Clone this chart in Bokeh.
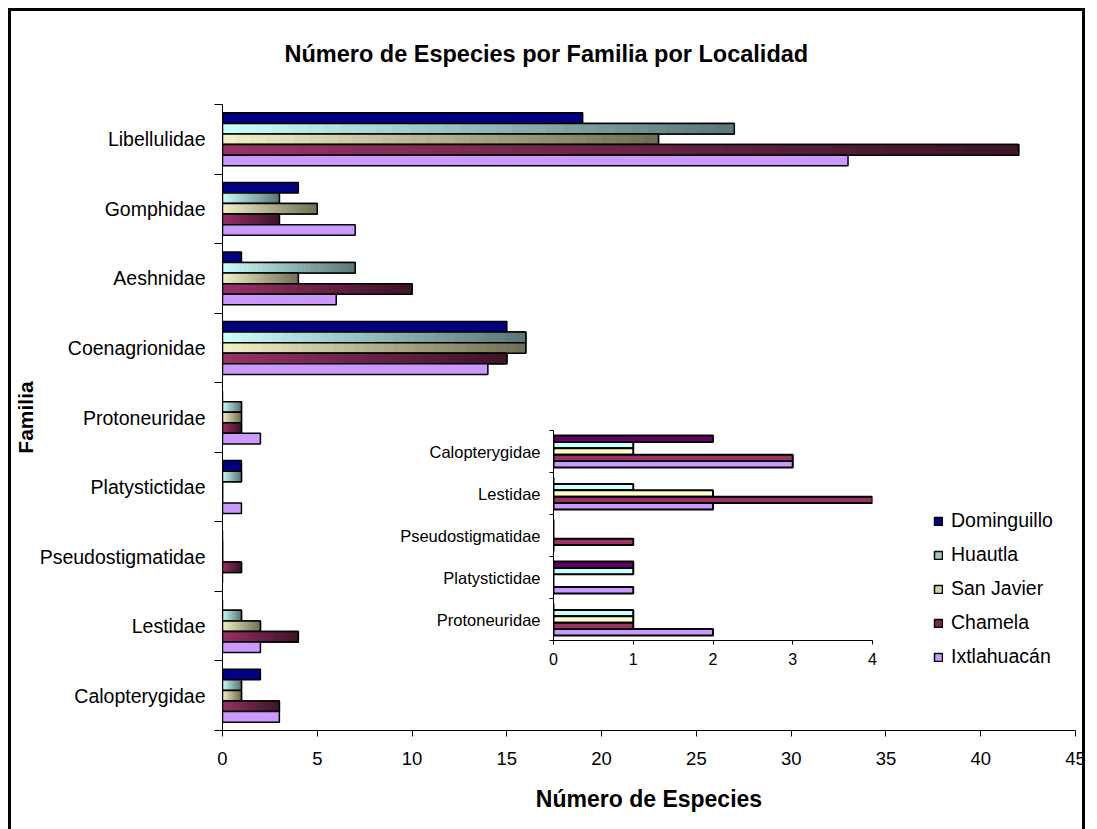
from bokeh.plotting import figure
from bokeh.models import FixedTicker, Legend, LegendItem, Range1d, Div
from bokeh.layouts import column
from bokeh.embed import file_html
from bokeh.resources import INLINE

# ---------------- data ----------------
families = ["Calopterygidae", "Lestidae", "Pseudostigmatidae", "Platystictidae",
            "Protoneuridae", "Coenagrionidae", "Aeshnidae", "Gomphidae", "Libellulidae"]
series_names = ["Dominguillo", "Huautla", "San Javier", "Chamela", "Ixtlahuacán"]
dominguillo = [2, 0, 0, 1, 0, 15, 1, 4, 19]
huautla = [1, 1, 0, 1, 1, 16, 7, 3, 27]
san_javier = [1, 2, 0, 0, 1, 16, 4, 5, 23]
chamela = [3, 4, 1, 0, 1, 15, 10, 3, 42]
ixtlahuacan = [3, 2, 0, 1, 2, 14, 6, 7, 33]
x_ticks = [0, 5, 10, 15, 20, 25, 30, 35, 40, 45]

# inset (bottom to top)
inset_families = ["Protoneuridae", "Platystictidae", "Pseudostigmatidae", "Lestidae", "Calopterygidae"]
inset_ticks = [0, 1, 2, 3, 4]

series = [dominguillo, huautla, san_javier, chamela, ixtlahuacan]

# ---------------- style ----------------
FONT = "Liberation Sans"
grad = [("#000080", "#000080"), ("#CCFFFF", "#5A7575"), ("#F2F2C8", "#6E6E55"),
        ("#993366", "#3C1428"), ("#CC99FF", "#CC99FF")]
legend_colors = ["#000080", "#A0C4C4", "#D2D2A6", "#7A2850", "#CC99FF"]
inset_colors = ["#660066", "#CCFFFF", "#FFFFCC", "#993366", "#CC99FF"]
BAR_H = 0.152
N_SEG = 30


def hex2rgb(h):
    h = h.lstrip("#")
    return tuple(int(h[i:i + 2], 16) for i in (0, 2, 4))


def mix(c0, c1, t):
    a, b = hex2rgb(c0), hex2rgb(c1)
    return "#%02x%02x%02x" % tuple(int(round(a[i] + (b[i] - a[i]) * t)) for i in range(3))


# ---------------- main figure ----------------
p = figure(width=1097, height=829, x_range=Range1d(0, 45), y_range=Range1d(-0.5, len(families) - 0.5),
           output_backend="svg", toolbar_location=None,
           min_border_left=222, min_border_right=22, min_border_top=103, min_border_bottom=99,
           title="Número de Especies por Familia por Localidad")
p.outline_line_color = None
p.xgrid.visible = False
p.ygrid.visible = False
p.background_fill_color = "white"
p.border_fill_color = "white"

p.title.align = "left"
p.title.offset = 62
p.title.standoff = 76
p.title.text_font = FONT
p.title.text_font_size = "23.5px"
p.title.text_font_style = "bold"
p.title.text_color = "black"

legend_items = []
for j, vals in enumerate(series):
    c0, c1 = grad[j]
    ys = [i + (2 - j) * BAR_H for i in range(len(families))]
    base = p.hbar(y=ys, left=0, right=vals, height=BAR_H, fill_color=legend_colors[j] if c0 != c1 else c0,
                  line_color="black", line_width=1.5)
    legend_items.append(LegendItem(label=series_names[j], renderers=[base]))
    if c0 != c1:
        sy, sl, sr, sc = [], [], [], []
        for y, v in zip(ys, vals):
            for k in range(N_SEG):
                sy.append(y)
                sl.append(v * k / N_SEG)
                sr.append(v * (k + 1) / N_SEG)
                sc.append(mix(c0, c1, (k + 0.5) / N_SEG))
        p.hbar(y=sy, left=sl, right=sr, height=BAR_H, fill_color=sc, line_color=sc, line_width=0.6)
        p.hbar(y=ys, left=0, right=vals, height=BAR_H, fill_color=None, line_color="black", line_width=1.5)

# y axis: labels at centres, ticks at boundaries
centers = list(range(len(families)))
p.yaxis.ticker = FixedTicker(ticks=centers, minor_ticks=[c - 0.5 for c in range(len(families) + 1)])
p.yaxis.major_label_overrides = {c: f for c, f in zip(centers, families)}
p.yaxis.major_tick_line_color = None
p.yaxis.major_tick_out = 0
p.yaxis.major_tick_in = 0
p.yaxis.minor_tick_line_color = "black"
p.yaxis.minor_tick_out = 8
p.yaxis.minor_tick_in = 0
p.yaxis.major_label_standoff = 9
p.yaxis.major_label_text_font = FONT
p.yaxis.major_label_text_font_size = "19.5px"
p.yaxis.major_label_text_color = "black"
p.yaxis.axis_line_color = "black"
p.yaxis.axis_label = "Familia"
p.yaxis.axis_label_text_font = FONT
p.yaxis.axis_label_text_font_size = "21px"
p.yaxis.axis_label_text_font_style = "bold"
p.yaxis.axis_label_text_color = "black"
p.yaxis.axis_label_standoff = 0

p.xaxis.ticker = FixedTicker(ticks=x_ticks)
p.xaxis.major_tick_out = 6
p.xaxis.major_tick_in = 0
p.xaxis.major_tick_line_color = "black"
p.xaxis.minor_tick_line_color = None
p.xaxis.major_label_standoff = 15
p.xaxis.major_label_text_font = FONT
p.xaxis.major_label_text_font_size = "18.5px"
p.xaxis.major_label_text_color = "black"
p.xaxis.axis_line_color = "black"
p.xaxis.axis_label = "Número de Especies"
p.xaxis.axis_label_text_font = FONT
p.xaxis.axis_label_text_font_size = "23px"
p.xaxis.axis_label_text_font_style = "bold"
p.xaxis.axis_label_text_color = "black"
p.xaxis.axis_label_standoff = 18

legend = Legend(items=legend_items, location=(711, 62), orientation="vertical",
                border_line_color=None, background_fill_alpha=0, padding=0, margin=0,
                spacing=11, label_height=22, glyph_height=10, glyph_width=10, label_standoff=8,
                label_text_font=FONT, label_text_font_size="19.5px", label_text_color="black")
p.add_layout(legend)

# ---------------- inset ----------------
# (plots in one column share left/right borders, so the inset uses the same borders as the main plot)
q = figure(width=563, height=265, x_range=Range1d(0, 4), y_range=Range1d(-0.5, len(inset_families) - 0.5),
           output_backend="svg", toolbar_location=None,
           min_border_left=222, min_border_right=22, min_border_top=12, min_border_bottom=43)
q.outline_line_color = None
q.xgrid.visible = False
q.ygrid.visible = False
q.background_fill_color = None
q.border_fill_color = None

for j, vals in enumerate(series):
    iv = [vals[families.index(f)] for f in inset_families]
    ys = [i + (2 - j) * BAR_H for i in range(len(inset_families))]
    q.hbar(y=ys, left=0, right=iv, height=BAR_H, fill_color=inset_colors[j], line_color="black", line_width=2)

icenters = list(range(len(inset_families)))
q.yaxis.ticker = FixedTicker(ticks=icenters, minor_ticks=[c - 0.5 for c in range(len(inset_families) + 1)])
q.yaxis.major_label_overrides = {c: f for c, f in zip(icenters, inset_families)}
q.yaxis.major_tick_line_color = None
q.yaxis.major_tick_out = 0
q.yaxis.major_tick_in = 0
q.yaxis.minor_tick_line_color = "black"
q.yaxis.minor_tick_out = 4
q.yaxis.minor_tick_in = 0
q.yaxis.major_label_standoff = 9
q.yaxis.major_label_text_font = FONT
q.yaxis.major_label_text_font_size = "16.5px"
q.yaxis.major_label_text_color = "black"
q.yaxis.axis_line_color = "black"

q.xaxis.ticker = FixedTicker(ticks=inset_ticks)
q.xaxis.major_tick_out = 4
q.xaxis.major_tick_in = 0
q.xaxis.major_tick_line_color = "black"
q.xaxis.minor_tick_line_color = None
q.xaxis.major_label_standoff = 8
q.xaxis.major_label_text_font = FONT
q.xaxis.major_label_text_font_size = "16px"
q.xaxis.major_label_text_color = "black"
q.xaxis.axis_line_color = "black"
q.styles = {"position": "absolute", "left": "331px", "top": "418px",
            "width": "563px", "height": "265px", "margin": "0px"}

frame_div = Div(width=1077, height=821, text="",
                styles={"position": "absolute", "left": "8px", "top": "8px", "margin": "0px",
                        "border-left": "3px solid black", "border-top": "3px solid black",
                        "border-right": "3px solid black", "box-sizing": "border-box",
                        "pointer-events": "none"})

layout = column(p, q, frame_div, styles={"position": "relative"})

open("out.html", "w").write(file_html(layout, INLINE))
